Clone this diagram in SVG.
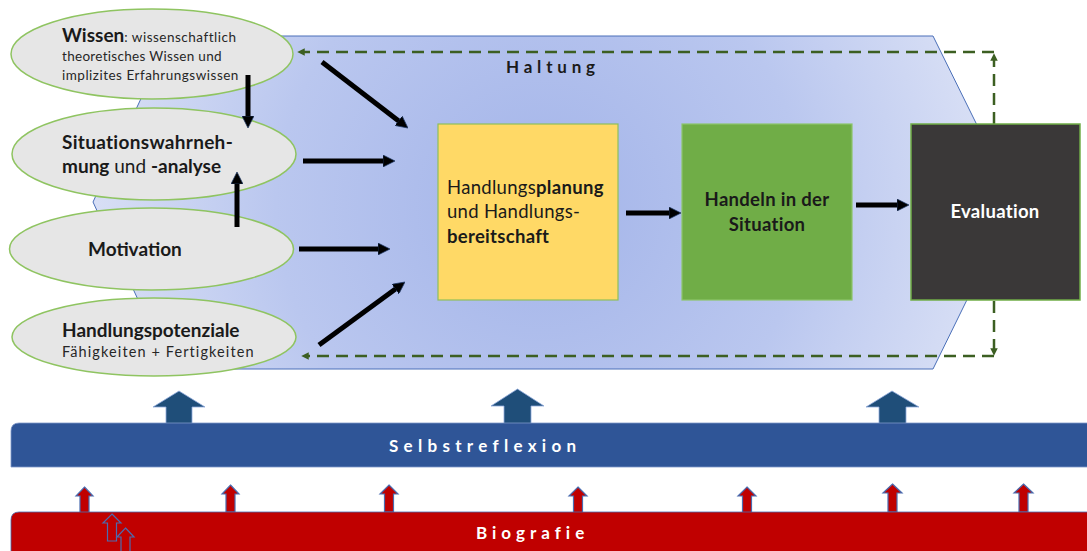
<svg xmlns="http://www.w3.org/2000/svg" width="1087" height="551" viewBox="0 0 1087 551">
<style>
  text { font-family: Lato, "Liberation Sans", sans-serif; fill: #1a1a1a; }
  .b { font-weight: bold; }
  .ell { fill: #e6e6e6; stroke: #8fc461; stroke-width: 1.5; }
  .big { font-size: 19px; font-weight: bold; }
  .small { font-size: 13.5px; letter-spacing: 0.5px; fill: #262626; }
  .box { font-size: 18.5px; letter-spacing: 0.3px; }
  .solid { stroke: #000; stroke-width: 5; fill: none; marker-end: url(#ah); }
  .dash { stroke: #3c5f22; stroke-width: 2.5; fill: none; stroke-dasharray: 12 7; marker-end: url(#dh); }
  .bigup { fill: #1f4e79; stroke: #8faadc; stroke-width: 0.8; }
  .redup { fill: #c00000; stroke: #4a6cb0; stroke-width: 1.2; }
  .band { font-size: 17px; font-weight: bold; fill: #ffffff; }
</style>
<defs>
  <radialGradient id="hg" gradientUnits="userSpaceOnUse" cx="540" cy="205" r="480">
    <stop offset="0" stop-color="#a3b4e9"/>
    <stop offset="0.55" stop-color="#bac7ef"/>
    <stop offset="1" stop-color="#dde3f6"/>
  </radialGradient>
  <marker id="ah" viewBox="0 0 10 10" refX="3" refY="5" markerWidth="2.4" markerHeight="2.4" orient="auto">
    <path d="M0,0 L10,5 L0,10 z" fill="#000" stroke="#1f3864" stroke-width="0.6"/>
  </marker>
  <marker id="dh" viewBox="0 0 10 10" refX="5" refY="5" markerWidth="3" markerHeight="3" orient="auto">
    <path d="M0,0 L10,5 L0,10 z" fill="#3c5f22"/>
  </marker>
</defs>

<g id="haltung">
  <polygon points="170,36 933,36 1015,202 933,369 170,369 93,202" fill="url(#hg)" stroke="#4a6fb8" stroke-width="1"/>
  <text x="506" y="73" class="b" style="font-size:17px;letter-spacing:4.8px">Haltung</text>
</g>

<g id="feedback-connectors">
  <line class="dash" x1="994" y1="124" x2="994" y2="57"/>
  <line class="dash" x1="994" y1="52" x2="301" y2="52"/>
  <line class="dash" x1="994" y1="301" x2="994" y2="352"/>
  <line class="dash" x1="994" y1="356" x2="305" y2="356"/>
</g>

<g id="wissen">
  <ellipse class="ell" cx="152" cy="54" rx="141" ry="45"/>
  <text x="62" y="42"><tspan class="big">Wissen</tspan><tspan class="small">: wissenschaftlich</tspan></text>
  <text x="62" y="61" class="small" style="letter-spacing:0.3px">theoretisches Wissen und</text>
  <text x="62" y="80" class="small">implizites Erfahrungswissen</text>
</g>

<g id="situation">
  <ellipse class="ell" cx="154" cy="154" rx="142" ry="46"/>
  <text x="62" y="149" class="big" style="letter-spacing:0.3px">Situationswahrneh-</text>
  <text x="62" y="173" style="font-size:19px"><tspan class="b">mung</tspan> und <tspan class="b">-analyse</tspan></text>
</g>

<g id="motivation">
  <ellipse class="ell" cx="151.5" cy="249" rx="142" ry="41"/>
  <text x="88" y="256" class="big">Motivation</text>
</g>

<g id="potenziale">
  <ellipse class="ell" cx="154" cy="337" rx="142" ry="39"/>
  <text x="62" y="337" class="big">Handlungspotenziale</text>
  <text x="62" y="357" class="small" style="font-size:14.5px;letter-spacing:1.1px">Fähigkeiten + Fertigkeiten</text>
</g>

<g id="planung">
  <rect x="438" y="124" width="180" height="176" fill="#ffd966" stroke="#8fbf5a" stroke-width="1.2"/>
  <text x="447" y="194" class="box">Handlungs<tspan class="b">planung</tspan></text>
  <text x="447" y="218" class="box">und Handlungs-</text>
  <text x="447" y="243" class="box b">bereitschaft</text>
</g>

<g id="handeln">
  <rect x="682" y="124" width="170" height="176" fill="#70ad47" stroke="#8cc56a" stroke-width="1.2"/>
  <text x="767" y="206" class="box b" text-anchor="middle">Handeln in der</text>
  <text x="767" y="231" class="box b" text-anchor="middle">Situation</text>
</g>

<g id="evaluation">
  <rect x="911" y="124" width="169" height="176" fill="#3a3838" stroke="#70ad47" stroke-width="1.5"/>
  <text x="995" y="218" class="box b" text-anchor="middle" style="fill:#ffffff">Evaluation</text>
</g>

<g id="connectors">
  <line class="solid" x1="248" y1="75" x2="248" y2="119.6"/>
  <line class="solid" x1="237" y1="227" x2="237" y2="180.4"/>
  <line class="solid" x1="322" y1="62" x2="401.3" y2="122.9"/>
  <line class="solid" x1="303" y1="161" x2="386.6" y2="161"/>
  <line class="solid" x1="299" y1="249" x2="381.6" y2="249"/>
  <line class="solid" x1="319" y1="345" x2="398.2" y2="287"/>
  <line class="solid" x1="626" y1="213" x2="672.6" y2="213"/>
  <line class="solid" x1="856" y1="205" x2="900.6" y2="205"/>
</g>

<g id="selbstreflexion-arrows">
  <polygon class="bigup" points="179,391 205,407 192,407 192,424 166,424 166,407 153,407"/>
  <polygon class="bigup" points="517.5,389 544,406 531,406 531,424 504,424 504,406 491,406"/>
  <polygon class="bigup" points="892,391 919,407 906,407 906,424 879,424 879,407 866,407"/>
</g>

<g id="selbstreflexion">
  <path d="M11,431 Q11,423 19,423 L1090,423 L1090,467 L11,467 Z" fill="#2f5597" stroke="#7f97c9" stroke-width="0.8"/>
  <text x="389" y="452" class="band" style="letter-spacing:5.3px">Selbstreflexion</text>
</g>

<g id="biografie-arrows">
  <polygon class="redup" points="84.5,487 93,496 89,496 89,513 80,513 80,496 76,496"/>
  <polygon class="redup" points="230.5,485 239,494 235,494 235,512 226,512 226,494 222,494"/>
  <polygon class="redup" points="389,485 398,494 393.5,494 393.5,512 384.5,512 384.5,494 380,494"/>
  <polygon class="redup" points="578,487 587,496 582.5,496 582.5,513 573.5,513 573.5,496 569,496"/>
  <polygon class="redup" points="747,487 756,496 751.5,496 751.5,513 742.5,513 742.5,496 738,496"/>
  <polygon class="redup" points="892.5,484 902,493 897,493 897,512 888,512 888,493 883,493"/>
  <polygon class="redup" points="1023.5,484 1033,493 1028,493 1028,512 1019,512 1019,493 1014,493"/>
</g>

<g id="biografie">
  <path d="M11,520 Q11,512 19,512 L1090,512 L1090,555 L11,555 Z" fill="#c00000" stroke="#4a6cb0" stroke-width="0.8"/>
  <text x="476" y="539" class="band" style="letter-spacing:5px">Biografie</text>
  <polygon points="112,514 121,523 116.5,523 116.5,541 107.5,541 107.5,523 103,523" fill="none" stroke="#4a6cb0" stroke-width="1.2"/>
  <polygon points="125.5,528 134,537 130,537 130,555 121,555 121,537 117,537" fill="none" stroke="#4a6cb0" stroke-width="1.2"/>
</g>
</svg>
